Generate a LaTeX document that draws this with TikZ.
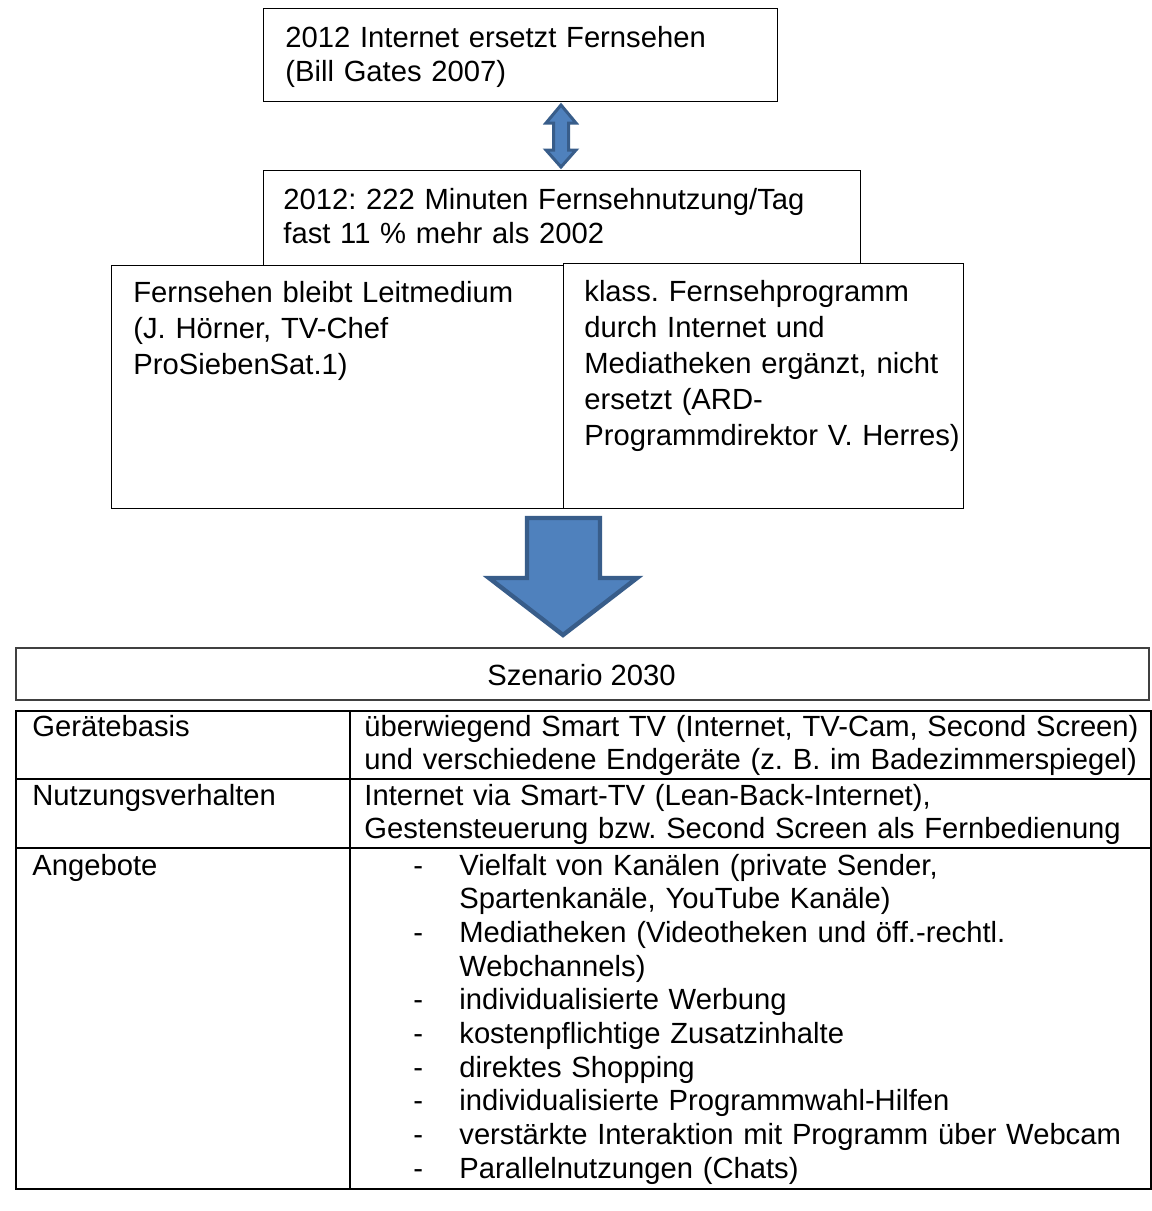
\documentclass[tikz,border=0pt]{standalone}
\usepackage{fontspec}
\setmainfont{Liberation Sans}
\usepackage{xcolor}
\usetikzlibrary{positioning}
\frenchspacing

\definecolor{arrowfill}{HTML}{4F81BD}
\definecolor{arrowline}{HTML}{385D8A}
\definecolor{headline}{HTML}{404040}

\begin{document}
\begin{tikzpicture}[x=0.5pt, y=-0.5pt,
        box/.style={draw, fill=white, line width=0.7pt, anchor=north west, inner sep=0pt},
        boxtext/.style={anchor=base west, inner sep=0pt, align=left, text width=300pt,
                        font=\fontsize{14.6}{17}\selectfont},
        quotetext/.style={anchor=base west, inner sep=0pt, align=left, text width=200pt,
                        font=\fontsize{14.6}{18}\selectfont},
        celltext/.style={anchor=base west, inner sep=0pt, align=left, text width=400pt,
                        font=\fontsize{14.6}{16.85}\selectfont},
        blockarrow/.style={draw=arrowline, fill=arrowfill, line join=miter}]
        \useasboundingbox (0,0) rectangle (1152,1211);

        % Define boxes for the statements
        \node[box, minimum width=257pt, minimum height=46.5pt] (q1) at (263,8) {};      % Internet box
        \node[box, minimum width=298.5pt, minimum height=60pt] (q2) at (263,170) {};   % usage box
        \node[box, minimum width=226pt, minimum height=121.5pt] (q3) at (111,265) {};  % left opinion
        \node[box, minimum width=200pt, minimum height=122.5pt] (q4) at (563,263) {};  % right opinion

        % Texts inside the boxes
        \node[boxtext] (t1) at (285,47) {2012 Internet ersetzt Fernsehen\\(Bill Gates 2007)};
        \node[boxtext] (t2) at (283,209) {2012: 222 Minuten Fernsehnutzung/Tag\\fast 11 \% mehr als 2002};
        \node[quotetext] (t3) at (133,302) {Fernsehen bleibt Leitmedium\\(J. H\"orner, TV-Chef\\ProSiebenSat.1)};
        \node[quotetext] (t4) at (584,301) {klass. Fernsehprogramm\\durch Internet und\\Mediatheken erg\"anzt, nicht\\ersetzt (ARD-\\Programmdirektor V. Herres)};

        % Block arrows
        \draw[blockarrow, line width=1.5pt] (561,105) -- (576,123) -- (568.5,123) -- (568.5,150)
            -- (576,150) -- (561,167) -- (546,150) -- (553.5,150) -- (553.5,123) -- (546,123) -- cycle; % q1 <-> q2
        \draw[blockarrow, line width=2.2pt] (527,518) -- (600,518) -- (600,578) -- (637,578)
            -- (563,635) -- (489,578) -- (527,578) -- cycle; % down to the table

        % Scenario header
        \node[draw=headline, line width=0.75pt, anchor=north west, inner sep=0pt,
              minimum width=566.5pt, minimum height=26pt] (hd) at (15,647) {};
        \node[anchor=base, inner sep=0pt, font=\fontsize{14.6}{17}\selectfont] (ht) at (581.5,685) {Szenario 2030};

        % Table frame
        \node[draw, line width=1pt, anchor=north west, inner sep=0pt,
              minimum width=567.5pt, minimum height=239pt] (tab) at (15,710) {};
        \coordinate (c1) at (350,710);
        \coordinate (r1) at (15,779);
        \coordinate (r2) at (15,848);
        \draw[line width=1pt] (c1) -- (c1 |- tab.south);
        \draw[line width=1pt] (r1) -- (r1 -| tab.east);
        \draw[line width=1pt] (r2) -- (r2 -| tab.east);

        % Table cells
        \node[celltext] (a1) at (32,736) {Ger\"atebasis};
        \node[celltext] (a2) at (32,805) {Nutzungsverhalten};
        \node[celltext] (a3) at (32,875) {Angebote};
        \node[celltext, font=\fontsize{14.6}{16.5}\selectfont] (b1) at (364,736)
            {\"uberwiegend Smart TV (Internet, TV-Cam, Second Screen)\\und verschiedene Endger\"ate (z. B. im Badezimmerspiegel)};
        \node[celltext] (b2) at (364,805)
            {Internet via Smart-TV (Lean-Back-Internet),\\Gestensteuerung bzw. Second Screen als Fernbedienung};
        \node[celltext, text width=20pt] (d3) at (413,875)
            {-\\\mbox{}\\-\\\mbox{}\\-\\-\\-\\-\\-\\-};
        \node[celltext, text width=360pt] (b3) at (459,875)
            {Vielfalt von Kan\"alen (private Sender,\\Spartenkan\"ale, YouTube Kan\"ale)\\Mediatheken (Videotheken und \"off.-rechtl.\\Webchannels)\\individualisierte Werbung\\kostenpflichtige Zusatzinhalte\\direktes Shopping\\individualisierte Programmwahl-Hilfen\\verst\"arkte Interaktion mit Programm \"uber Webcam\\Parallelnutzungen (Chats)};
    \end{tikzpicture}
\end{document}
